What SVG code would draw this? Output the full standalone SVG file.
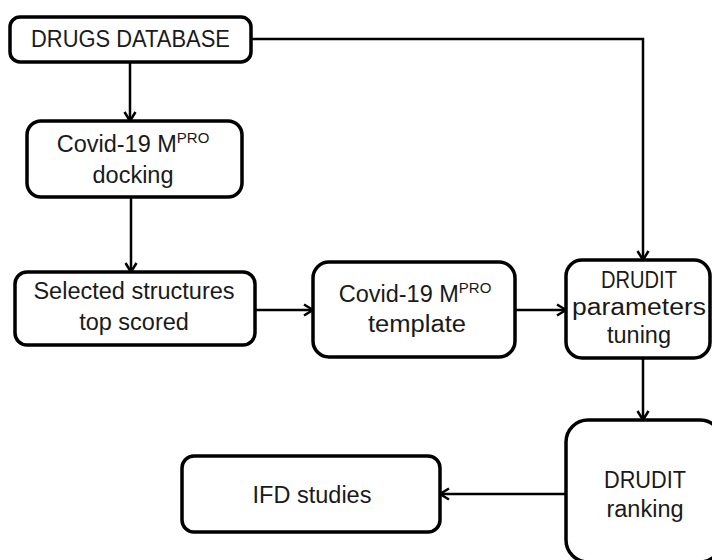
<svg xmlns="http://www.w3.org/2000/svg" width="712" height="560" viewBox="0 0 712 560">
  <style>
    .box { fill: #ffffff; stroke: #000000; stroke-width: 3.5; }
    .lbl { font-family: "Liberation Sans", Arial, sans-serif; font-size: 23.5px; fill: #1a1a1a; text-anchor: middle; }
    .sup { font-size: 15px; }
    .edge { fill: none; stroke: #000000; stroke-width: 2.5; marker-end: url(#arrow); }
  </style>
  <defs>
    <marker id="arrow" markerUnits="userSpaceOnUse" markerWidth="14" markerHeight="14" viewBox="0 0 14 14" refX="12" refY="7" orient="auto">
      <path d="M3,1.5 L12,7 L3,12.5" fill="none" stroke="#000000" stroke-width="2.5" stroke-linejoin="miter"/>
    </marker>
  </defs>

  <rect width="712" height="560" fill="#ffffff"/>

  <!-- connectors -->
  <g id="connectors">
    <path class="edge" d="M130,62 L130,121"/>
    <path class="edge" d="M131,197 L131,272"/>
    <path class="edge" d="M255,310 L313,310"/>
    <path class="edge" d="M515,310 L566,310"/>
    <path class="edge" d="M251,39 L643,39 L643,260"/>
    <path class="edge" d="M643,358 L643,420"/>
    <path class="edge" d="M566,494 L440,494"/>
  </g>

  <!-- nodes -->
  <g id="drugs-database">
    <rect class="box" x="10" y="17" width="241" height="45" rx="10"/>
    <text class="lbl" x="130.5" y="47" textLength="199" lengthAdjust="spacingAndGlyphs">DRUGS DATABASE</text>
  </g>

  <g id="mpro-docking">
    <rect class="box" x="27" y="121" width="215" height="76" rx="14"/>
    <text class="lbl" x="133" y="152">Covid-19 M<tspan class="sup" dy="-9">PRO</tspan></text>
    <text class="lbl" x="133" y="183">docking</text>
  </g>

  <g id="selected-structures">
    <rect class="box" x="15" y="272" width="240" height="73" rx="12"/>
    <text class="lbl" x="134" y="299">Selected structures</text>
    <text class="lbl" x="134" y="330">top scored</text>
  </g>

  <g id="mpro-template">
    <rect class="box" x="313" y="262" width="202" height="95" rx="16"/>
    <text class="lbl" x="415" y="302">Covid-19 M<tspan class="sup" dy="-9">PRO</tspan></text>
    <text class="lbl" x="417" y="332" textLength="98" lengthAdjust="spacingAndGlyphs">template</text>
  </g>

  <g id="drudit-tuning">
    <rect class="box" x="566" y="260" width="144" height="98" rx="16"/>
    <text class="lbl" x="639" y="288" textLength="76" lengthAdjust="spacingAndGlyphs">DRUDIT</text>
    <text class="lbl" x="639" y="315" textLength="134" lengthAdjust="spacingAndGlyphs">parameters</text>
    <text class="lbl" x="639" y="343">tuning</text>
  </g>

  <g id="drudit-ranking">
    <rect class="box" x="566" y="420" width="156" height="142" rx="22"/>
    <text class="lbl" x="645" y="488" textLength="82" lengthAdjust="spacingAndGlyphs">DRUDIT</text>
    <text class="lbl" x="645" y="517">ranking</text>
  </g>

  <g id="ifd-studies">
    <rect class="box" x="182" y="456" width="258" height="76" rx="12"/>
    <text class="lbl" x="312" y="503">IFD studies</text>
  </g>
</svg>
